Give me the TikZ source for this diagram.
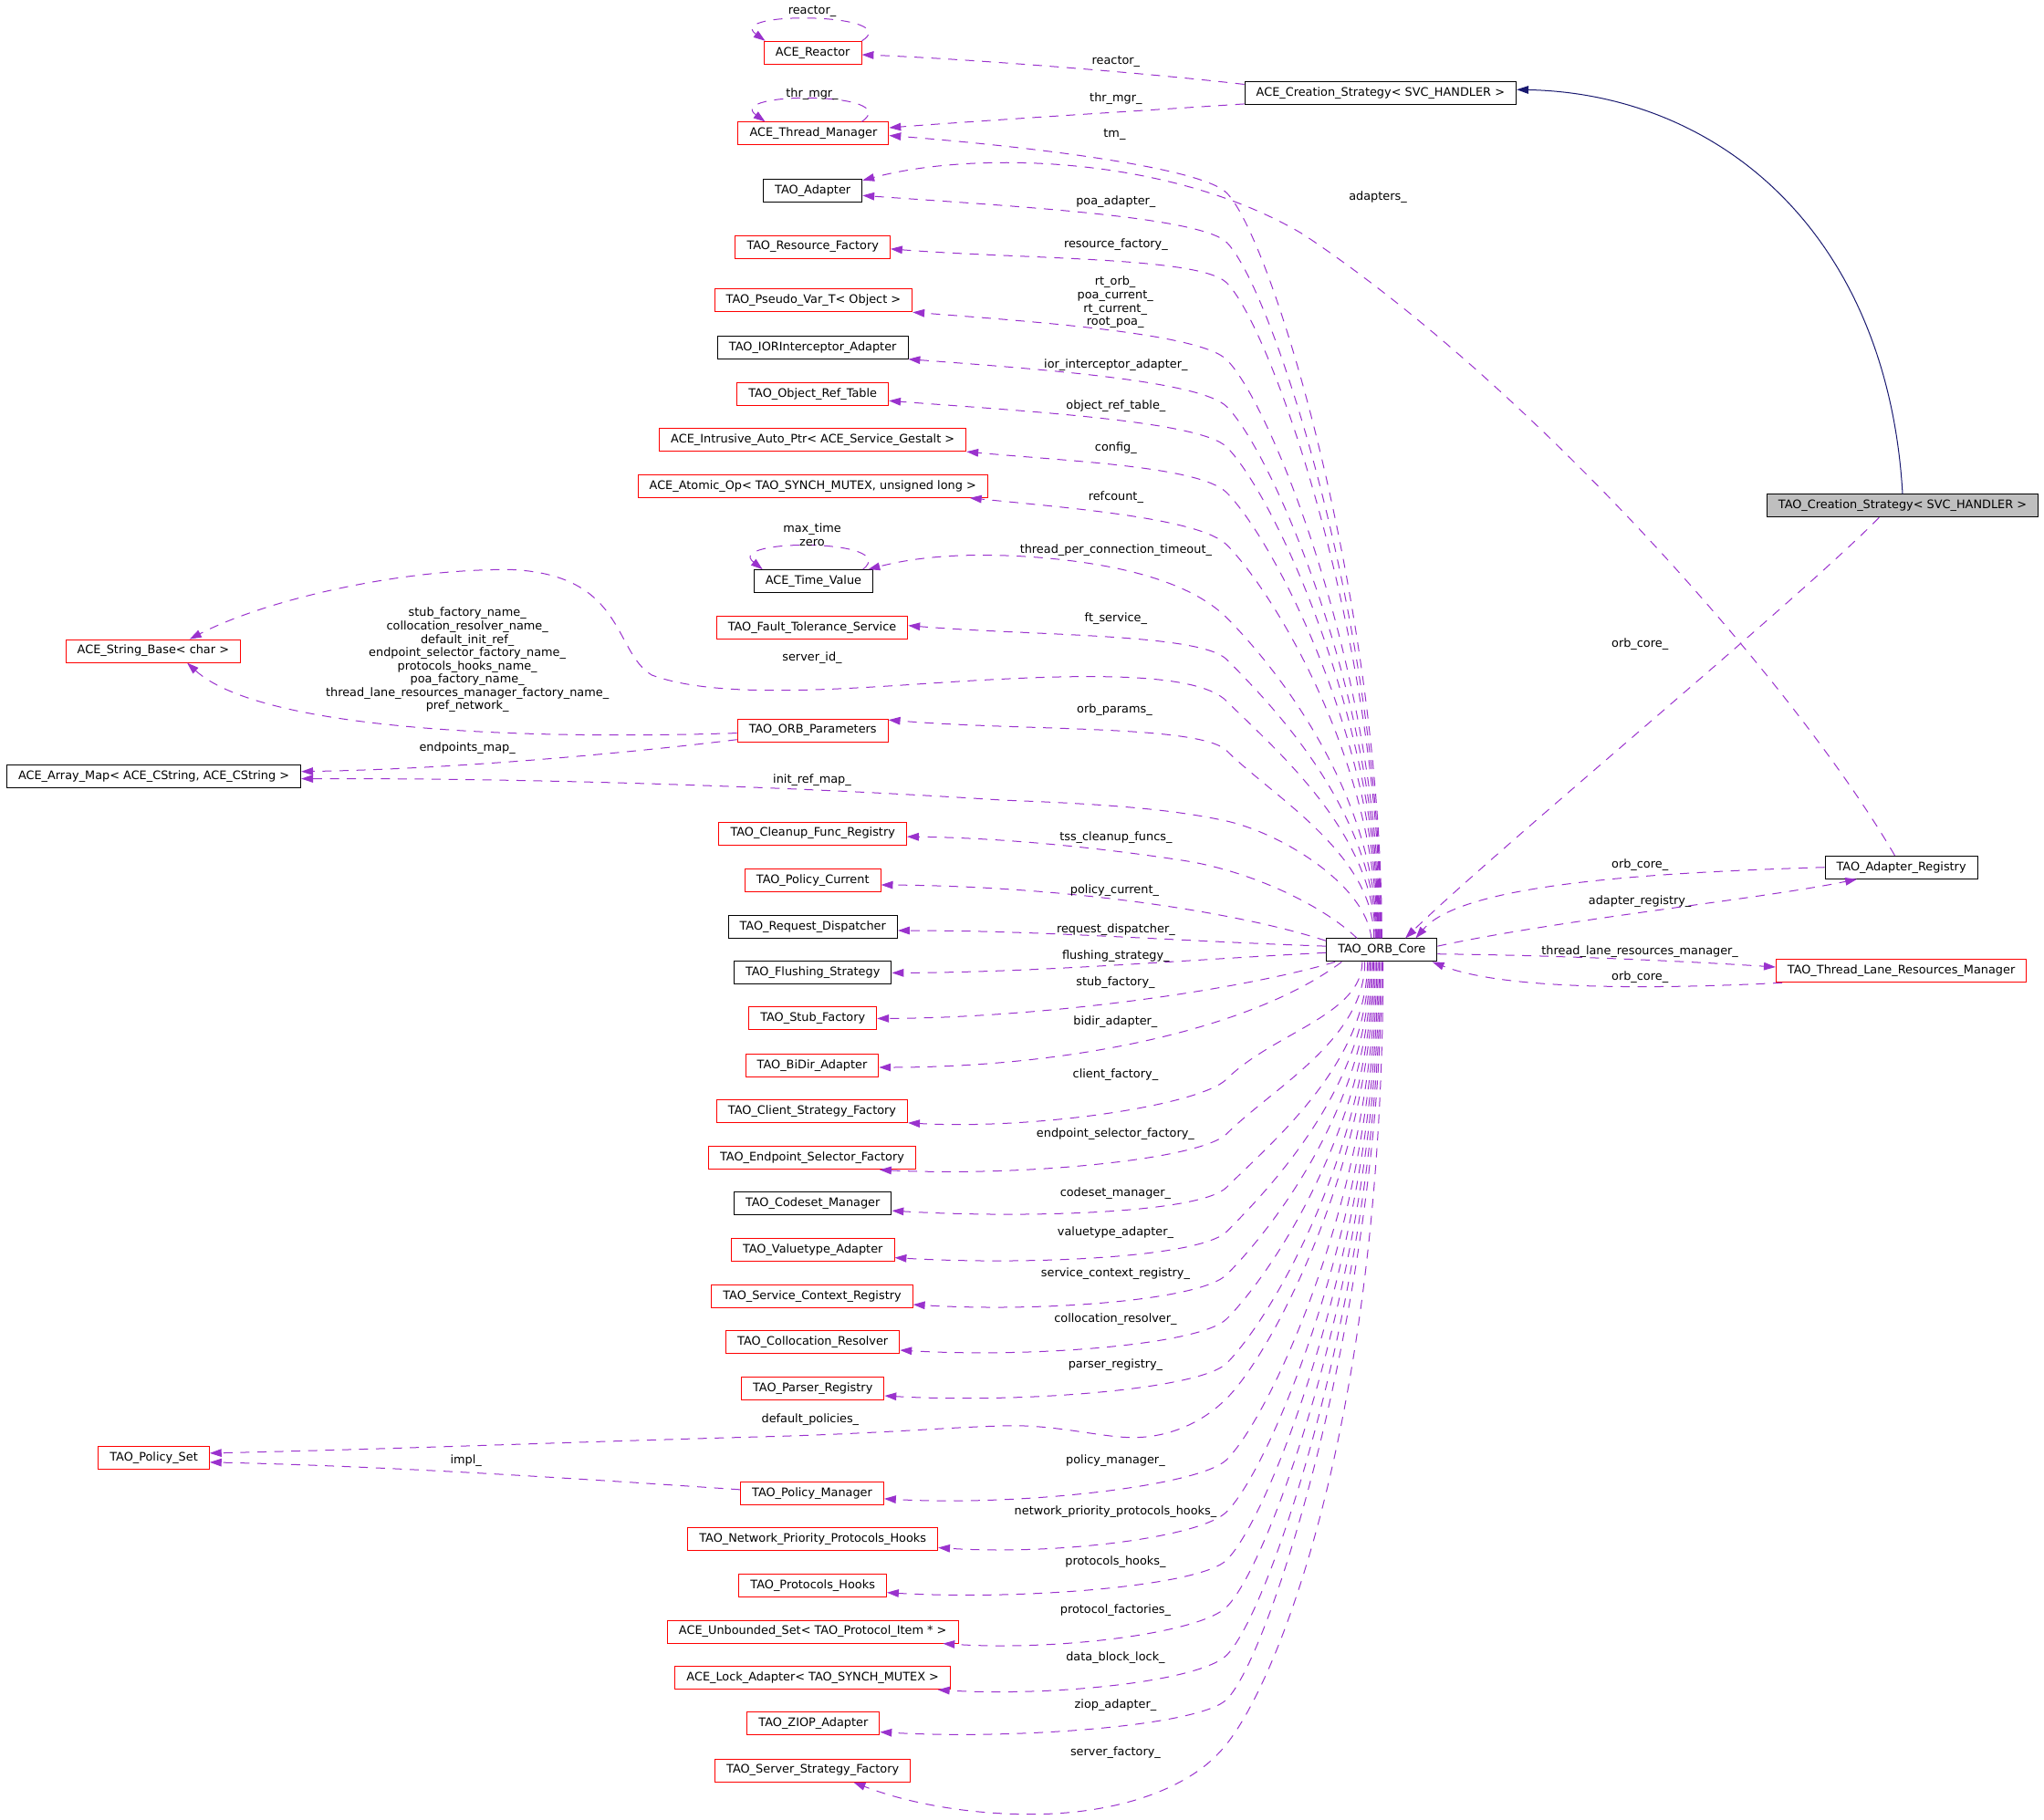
\documentclass[tikz,border=0pt]{standalone}
\usepackage{fontspec}
\setmainfont{DejaVu Sans}
\usetikzlibrary{arrows.meta}
\definecolor{edgepurple}{HTML}{9A32CD}
\definecolor{inhblue}{HTML}{191970}
\definecolor{boxred}{HTML}{FF0000}
\definecolor{boxgray}{HTML}{BFBFBF}
\newcommand\dgfont{\fontsize{9}{10.2}\selectfont}
\tikzset{
  cls/.style={draw=black, line width=0.7pt, minimum height=17.5pt, inner xsep=8.8pt, inner ysep=0pt, font=\dgfont},
  redcls/.style={cls, draw=boxred},
  lbl/.style={font=\dgfont, inner sep=0pt, align=center},
  memb/.style={draw=edgepurple, line width=0.7pt, dash pattern=on 7pt off 6pt, -{Triangle[length=9pt,width=6pt]}},
  inh/.style={draw=inhblue, line width=0.7pt, -{Triangle[length=9pt,width=6pt]}},
}
% #1 start anchor, #2 start x, #3 knee y, #4 target anchor, #5 target x, #6 target y
\newcommand\topedge[6]{\draw[memb] (#1) .. controls (#2,{720-0.45*(720-#3)}) and (976,{#3+35}) .. (941,#3)
   .. controls (921,{#3-20}) and ({#5+0.4*(941-#5)},{#6+8}) .. (#4);}
\newcommand\botedge[6]{\draw[memb] (#1) .. controls (#2,{738+0.45*(#3-738)}) and (976,{#3-35}) .. (941,#3)
   .. controls (921,{#3+20}) and ({#5+0.4*(941-#5)},{#6+6}) .. (#4);}
\begin{document}
\begin{tikzpicture}[x=1pt,y=-1pt]
\useasboundingbox (0,0) rectangle (1568,1396);
% ---------- nodes ----------
\node[cls] (acs) at (1059,71.75) {ACE\_Creation\_Strategy< SVC\_HANDLER >};
\node[cls, fill=boxgray] (tcs) at (1459.5,388) {TAO\_Creation\_Strategy< SVC\_HANDLER >};
\node[redcls] (reactor) at (623.5,40.5) {ACE\_Reactor};
\node[redcls] (thrmgr) at (624,102.5) {ACE\_Thread\_Manager};
\node[cls] (adapter) at (623.5,146.5) {TAO\_Adapter};
\node[redcls] (resfac) at (623.5,189.5) {TAO\_Resource\_Factory};
\node[redcls] (pseudo) at (624,230.5) {TAO\_Pseudo\_Var\_T< Object >};
\node[cls] (ior) at (623.5,266.5) {TAO\_IORInterceptor\_Adapter};
\node[redcls] (objref) at (623.5,302.5) {TAO\_Object\_Ref\_Table};
\node[redcls] (intr) at (623.5,337.5) {ACE\_Intrusive\_Auto\_Ptr< ACE\_Service\_Gestalt >};
\node[redcls] (atomic) at (623.5,373) {ACE\_Atomic\_Op< TAO\_SYNCH\_MUTEX, unsigned long >};
\node[cls] (timev) at (624,446) {ACE\_Time\_Value};
\node[redcls] (ft) at (623,481.5) {TAO\_Fault\_Tolerance\_Service};
\node[redcls] (strbase) at (117.5,499.5) {ACE\_String\_Base< char >};
\node[redcls] (params) at (623.5,560.5) {TAO\_ORB\_Parameters};
\node[cls] (arrmap) at (118,595.5) {ACE\_Array\_Map< ACE\_CString, ACE\_CString >};
\node[redcls] (cleanup) at (623.5,639.5) {TAO\_Cleanup\_Func\_Registry};
\node[redcls] (polcur) at (623.5,675.5) {TAO\_Policy\_Current};
\node[cls] (reqd) at (623.5,711.5) {TAO\_Request\_Dispatcher};
\node[cls] (flush) at (623.5,746.5) {TAO\_Flushing\_Strategy};
\node[redcls] (stubf) at (623.5,781.5) {TAO\_Stub\_Factory};
\node[redcls] (bidir) at (623,817.5) {TAO\_BiDir\_Adapter};
\node[redcls] (clientf) at (623,852.5) {TAO\_Client\_Strategy\_Factory};
\node[redcls] (endpt) at (623,888.5) {TAO\_Endpoint\_Selector\_Factory};
\node[cls] (codeset) at (623.5,923.5) {TAO\_Codeset\_Manager};
\node[redcls] (valuet) at (623.5,959) {TAO\_Valuetype\_Adapter};
\node[redcls] (svcctx) at (623,994.5) {TAO\_Service\_Context\_Registry};
\node[redcls] (colloc) at (623.5,1030) {TAO\_Collocation\_Resolver};
\node[redcls] (parser) at (623.5,1065.5) {TAO\_Parser\_Registry};
\node[redcls] (polset) at (118,1118.5) {TAO\_Policy\_Set};
\node[redcls] (polmgr) at (623,1146) {TAO\_Policy\_Manager};
\node[redcls] (npph) at (623.5,1181) {TAO\_Network\_Priority\_Protocols\_Hooks};
\node[redcls] (phooks) at (623.5,1216.5) {TAO\_Protocols\_Hooks};
\node[redcls] (unbset) at (623.5,1252) {ACE\_Unbounded\_Set< TAO\_Protocol\_Item * >};
\node[redcls] (lockad) at (623.5,1287.5) {ACE\_Lock\_Adapter< TAO\_SYNCH\_MUTEX >};
\node[redcls] (ziop) at (624,1322.5) {TAO\_ZIOP\_Adapter};
\node[redcls] (ssf) at (623.5,1358.5) {TAO\_Server\_Strategy\_Factory};
\node[cls] (orb) at (1060,729) {TAO\_ORB\_Core};
\node[cls] (adreg) at (1458.5,665.5) {TAO\_Adapter\_Registry};
\node[redcls] (tlrm) at (1458.5,745) {TAO\_Thread\_Lane\_Resources\_Manager};

% ---------- inheritance ----------
\draw[inh] (tcs.north) .. controls (1448,180) and (1320,72) .. ([yshift=3pt]acs.east);

% ---------- self loops ----------
\draw[memb] (reactor.north east) .. controls (695,10) and (555,8) .. ([xshift=-36.5pt]reactor.north);
\draw[memb] ([xshift=37pt]thrmgr.north) .. controls (695,70) and (555,70) .. ([xshift=-37pt]thrmgr.north);
\draw[memb] ([xshift=38pt]timev.north) .. controls (692,413) and (555,413) .. ([xshift=-39pt]timev.north);

% ---------- from ACE_Creation_Strategy ----------
\draw[memb] ([yshift=7pt]acs.west) .. controls (880,56) and (740,45) .. ([yshift=-1.5pt]reactor.east);
\draw[memb] ([yshift=-8pt]acs.west) .. controls (890,84) and (760,92) .. ([yshift=4.5pt]thrmgr.east);

% ---------- adapters_ ----------
\draw[memb] ([xshift=-5pt]adreg.north) .. controls (1380,530) and (1180,300) .. (1000,180)
   .. controls (900,120) and (750,115) .. ([yshift=-1pt]adapter.north east);

% ---------- top fan from TAO_ORB_Core ----------
\topedge{orb.north}{1060}{148}{[yshift=-1.5pt]thrmgr.east}{681}{104}
\topedge{[xshift=-0.5pt]orb.north}{1059.5}{186}{[yshift=-3.5pt]adapter.east}{661}{150}
\topedge{[xshift=-1pt]orb.north}{1059}{217}{[yshift=-1.5pt]resfac.east}{683}{191}
\topedge{[xshift=-1.5pt]orb.north}{1058.5}{276}{pseudo.south east}{700}{239}
\topedge{[xshift=-2pt]orb.north}{1058}{312}{ior.south east}{697}{275}
\topedge{[xshift=-2.5pt]orb.north}{1057.5}{343}{[yshift=-5pt]objref.east}{683}{307.5}
\topedge{[xshift=-3pt]orb.north}{1057}{378}{intr.south east}{742}{346}
\topedge{[xshift=-3.5pt]orb.north}{1056.5}{418}{[xshift=-14pt]atomic.south east}{745}{382}
\draw[memb] ([xshift=-4pt]orb.north) .. controls (1056,607) and (976,509) .. (941,474)
   .. controls (921,454) and (880,435) .. (800,428)
   .. controls (740,423) and (700,428) .. ([xshift=-4pt]timev.north east);
\topedge{[xshift=-4.5pt]orb.north}{1055.5}{506}{[yshift=1.5pt]ft.east}{697}{480}
\draw[memb] ([xshift=-5pt]orb.north) .. controls (1055,639) and (976,573) .. (941,538)
   .. controls (921,518) and (850,517) .. (770,521)
   .. controls (680,525) and (560,540) .. (500,518)
   .. controls (470,500) and (480,440) .. (390,437)
   .. controls (300,437) and (200,462) .. ([xshift=28pt]strbase.north);
\topedge{[xshift=-6pt]orb.north}{1054}{576}{[yshift=-1pt]params.north east}{681}{553}
\draw[memb] ([xshift=-8pt]orb.north) .. controls (1048,680) and (985,640) .. (941,630)
   .. controls (900,621) and (850,617) .. (770,614)
   .. controls (600,603) and (400,597) .. ([yshift=-2pt]arrmap.east);

% ---------- TAO_ORB_Parameters ----------
\draw[memb] ([yshift=-2pt]params.west) .. controls (400,568) and (200,560) .. ([xshift=26pt]strbase.south);
\draw[memb] ([yshift=-7pt]params.west) .. controls (480,578) and (350,590) .. ([yshift=3.5pt]arrmap.east);

% ---------- left fan ----------
\draw[memb] ([xshift=-19pt]orb.north) .. controls (1015,695) and (960,668) .. (906,660)
   .. controls (860,653) and (780,643) .. ([yshift=-2.5pt]cleanup.east);
\draw[memb] ([yshift=-2pt]orb.north west) .. controls (950,700) and (820,680) .. ([yshift=-3.5pt]polcur.east);
\draw[memb] ([yshift=3pt]orb.west) .. controls (900,722) and (800,714) .. ([yshift=-2.5pt]reqd.east);
\draw[memb] ([yshift=-2pt]orb.west) .. controls (900,737) and (800,746) .. (flush.east);
\draw[memb] ([xshift=7pt]orb.south west) .. controls (950,760) and (800,781) .. (stubf.east);
\draw[memb] ([xshift=12pt]orb.south west) .. controls (960,790) and (820,819) .. ([yshift=-1.5pt]bidir.east);

% ---------- bottom fan ----------
\botedge{[xshift=-15pt]orb.south}{1045}{828}{clientf.south east}{697}{861}
\botedge{[xshift=-13pt]orb.south}{1047}{870}{[xshift=-28pt]endpt.south east}{675}{897}
\botedge{[xshift=-11pt]orb.south}{1049}{911}{[yshift=-5.5pt]codeset.east}{684}{929}
\botedge{[xshift=-10pt]orb.south}{1050}{945}{[yshift=-6pt]valuet.east}{686}{965}
\botedge{[xshift=-9pt]orb.south}{1051}{978}{[yshift=-6.5pt]svcctx.east}{701}{1001}
\botedge{[xshift=-8pt]orb.south}{1052}{1012}{[yshift=-6pt]colloc.east}{691}{1036}
\botedge{[xshift=-7pt]orb.south}{1053}{1046}{[yshift=-5.5pt]parser.east}{678}{1071}
\draw[memb] ([xshift=-6pt]orb.south) .. controls (1054,889) and (976,1038) .. (941,1073)
   .. controls (921,1093) and (895,1103) .. (869,1103)
   .. controls (845,1103) and (810,1093) .. (772,1094)
   .. controls (730,1095) and (690,1099) .. (600,1102)
   .. controls (450,1106) and (300,1112) .. ([yshift=3.5pt]polset.east);
\draw[memb] ([yshift=3pt]polmgr.west) .. controls (450,1135) and (300,1125) .. ([yshift=-3.5pt]polset.east);
\botedge{[xshift=-5pt]orb.south}{1055}{1120}{[yshift=-4pt]polmgr.east}{678}{1150}
\botedge{[xshift=-4pt]orb.south}{1056}{1160}{[yshift=-6.5pt]npph.east}{720}{1187.5}
\botedge{[xshift=-3pt]orb.south}{1057}{1197}{[yshift=-5.5pt]phooks.east}{680}{1222}
\botedge{[xshift=-2pt]orb.south}{1058}{1233}{[xshift=-12pt]unbset.south east}{725}{1261}
\botedge{[xshift=-1pt]orb.south}{1059}{1270}{[xshift=-10pt]lockad.south east}{720}{1296}
\botedge{orb.south}{1060}{1304}{[yshift=-6.5pt]ziop.east}{675}{1329}
\draw[memb] ([xshift=1pt]orb.south) .. controls (1061,1100) and (975,1305) .. (935,1345)
   .. controls (915,1367) and (870,1390) .. (799,1392)
   .. controls (750,1393) and (700,1385) .. ([xshift=-44pt]ssf.south east);

% ---------- right side ----------
\draw[memb] ([xshift=-18pt]tcs.south) .. controls (1380,460) and (1150,650) .. ([xshift=18pt]orb.north);
\draw[memb] (adreg.west) .. controls (1250,670) and (1120,680) .. ([xshift=26pt]orb.north);
\draw[memb] ([yshift=3pt]orb.east) .. controls (1200,705) and (1350,690) .. ([xshift=-34pt]adreg.south);
\draw[memb] ([yshift=-3pt]orb.east) .. controls (1200,733) and (1300,738) .. ([yshift=3pt]tlrm.west);
\draw[memb] ([xshift=5pt]tlrm.south west) .. controls (1250,760) and (1150,758) .. ([xshift=-4pt]orb.south east);

% ---------- labels ----------
\node[lbl] (l1) at (623,9) {reactor\_};
\node[lbl] (l2) at (623,72) {thr\_mgr\_};
\node[lbl] (l3) at (856,47) {reactor\_};
\node[lbl] (l4) at (856,76) {thr\_mgr\_};
\node[lbl] (l5) at (855,103.5) {tm\_};
\node[lbl] (l6) at (1057,151) {adapters\_};
\node[lbl] (l7) at (856,155) {poa\_adapter\_};
\node[lbl] (l8) at (856,188) {resource\_factory\_};
\node[lbl] (l9) at (855.5,232) {rt\_orb\_\\poa\_current\_\\rt\_current\_\\root\_poa\_};
\node[lbl] (l10) at (856,280) {ior\_interceptor\_adapter\_};
\node[lbl] (l11) at (856,311.5) {object\_ref\_table\_};
\node[lbl] (l12) at (856,343.5) {config\_};
\node[lbl] (l13) at (856,381.5) {refcount\_};
\node[lbl] (l14) at (623,410.2) {max\_time\\zero};
\node[lbl] (l15) at (856,422) {thread\_per\_connection\_timeout\_};
\node[lbl] (l16) at (856,475) {ft\_service\_};
\node[lbl] (l17) at (623,504.5) {server\_id\_};
\node[lbl] (l18) at (358.5,506.5) {stub\_factory\_name\_\\collocation\_resolver\_name\_\\default\_init\_ref\_\\endpoint\_selector\_factory\_name\_\\protocols\_hooks\_name\_\\poa\_factory\_name\_\\thread\_lane\_resources\_manager\_factory\_name\_\\pref\_network\_};
\node[lbl] (l19) at (855,545) {orb\_params\_};
\node[lbl] (l20) at (358.5,574) {endpoints\_map\_};
\node[lbl] (l21) at (623,598.5) {init\_ref\_map\_};
\node[lbl] (l22) at (856,643) {tss\_cleanup\_funcs\_};
\node[lbl] (l23) at (855,683) {policy\_current\_};
\node[lbl] (l24) at (856,713.3) {request\_dispatcher\_};
\node[lbl] (l25) at (856,733.8) {flushing\_strategy\_};
\node[lbl] (l26) at (855.7,753.7) {stub\_factory\_};
\node[lbl] (l27) at (855.7,784) {bidir\_adapter\_};
\node[lbl] (l28) at (855.7,825) {client\_factory\_};
\node[lbl] (l29) at (855.7,870) {endpoint\_selector\_factory\_};
\node[lbl] (l30) at (855.7,915.5) {codeset\_manager\_};
\node[lbl] (l31) at (855.7,946) {valuetype\_adapter\_};
\node[lbl] (l32) at (855.7,977) {service\_context\_registry\_};
\node[lbl] (l33) at (855.7,1012) {collocation\_resolver\_};
\node[lbl] (l34) at (855.7,1047) {parser\_registry\_};
\node[lbl] (l35) at (621.5,1089) {default\_policies\_};
\node[lbl] (l36) at (357.5,1120.5) {impl\_};
\node[lbl] (l37) at (855.7,1120.5) {policy\_manager\_};
\node[lbl] (l38) at (855.7,1159.7) {network\_priority\_protocols\_hooks\_};
\node[lbl] (l39) at (855.7,1198.4) {protocols\_hooks\_};
\node[lbl] (l40) at (855.7,1235.5) {protocol\_factories\_};
\node[lbl] (l41) at (855.7,1271.7) {data\_block\_lock\_};
\node[lbl] (l42) at (855.7,1308.3) {ziop\_adapter\_};
\node[lbl] (l43) at (855.7,1344.5) {server\_factory\_};
\node[lbl] (l44) at (1258,494) {orb\_core\_};
\node[lbl] (l45) at (1258,663.8) {orb\_core\_};
\node[lbl] (l46) at (1258,691.8) {adapter\_registry\_};
\node[lbl] (l47) at (1258,730) {thread\_lane\_resources\_manager\_};
\node[lbl] (l48) at (1258,749.5) {orb\_core\_};
\end{tikzpicture}
\end{document}
